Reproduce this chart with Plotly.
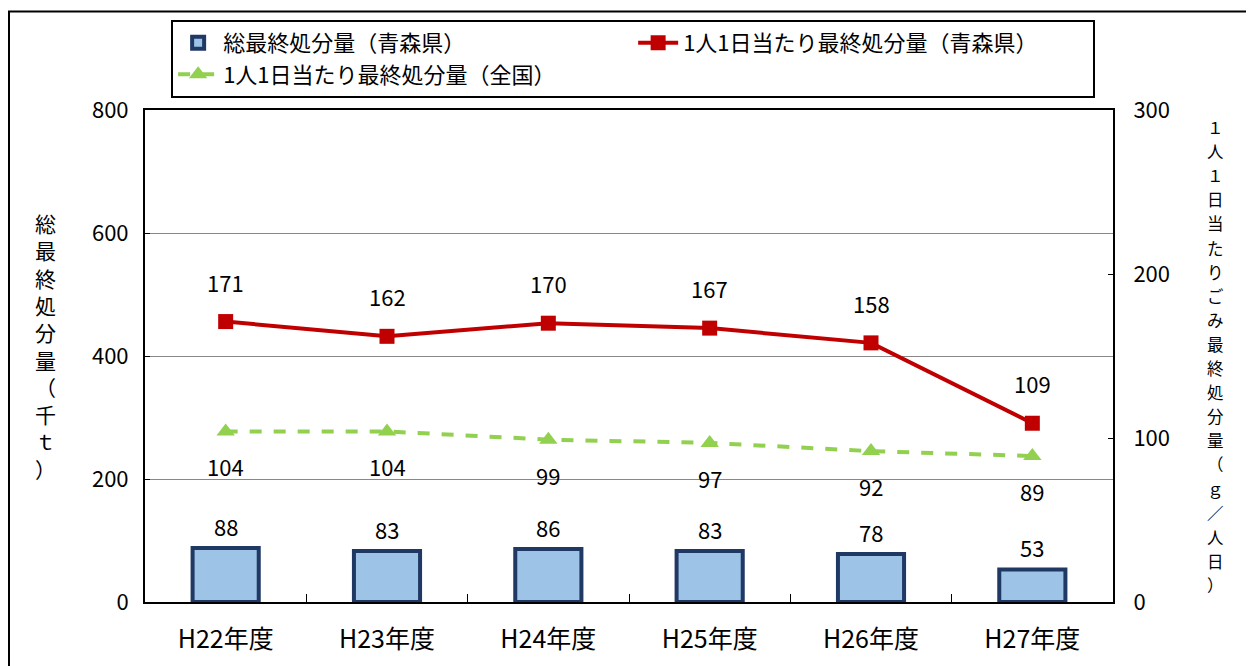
import plotly.graph_objects as go

categories = ["H22年度", "H23年度", "H24年度", "H25年度", "H26年度", "H27年度"]
total_aomori = [88, 83, 86, 83, 78, 53]
per_capita_aomori = [171, 162, 170, 167, 158, 109]
per_capita_national = [104, 104, 99, 97, 92, 89]

FONT = "Noto Sans CJK JP"

fig = go.Figure()
fig.add_trace(go.Bar(
    x=categories, y=total_aomori, name="総最終処分量（青森県）",
    marker=dict(color="#9DC3E6", line=dict(color="#1F3864", width=4)),
    width=0.41, yaxis="y",
))
fig.add_trace(go.Scatter(
    x=categories, y=per_capita_aomori, name="1人1日当たり最終処分量（青森県）",
    mode="lines+markers", line=dict(color="#C00000", width=4),
    marker=dict(symbol="square", size=15, color="#C00000"), yaxis="y2",
))
fig.add_trace(go.Scatter(
    x=categories, y=per_capita_national, name="1人1日当たり最終処分量（全国）",
    mode="lines+markers", line=dict(color="#92D050", width=4, dash="dash"),
    marker=dict(symbol="triangle-up", size=16, color="#92D050"), yaxis="y2",
))

anns = []
for c, v in zip(categories, total_aomori):
    anns.append(dict(x=c, y=v, yref="y", text=str(v), showarrow=False, yshift=22,
                     font=dict(size=22, color="#000", family=FONT)))
for c, v in zip(categories, per_capita_aomori):
    anns.append(dict(x=c, y=v, yref="y2", text=str(v), showarrow=False, yshift=40,
                     font=dict(size=22, color="#000", family=FONT)))
for c, v in zip(categories, per_capita_national):
    anns.append(dict(x=c, y=v, yref="y2", text=str(v), showarrow=False, yshift=-35,
                     font=dict(size=22, color="#000", family=FONT)))

left_title = "総最終処分量（千ｔ）"
right_title = "１人１日当たりごみ最終処分量（ｇ／人日）"
anns.append(dict(xref="paper", yref="paper", x=-0.103, y=0.52, xanchor="center", yanchor="middle",
                 text="<br>".join(list(left_title)), showarrow=False, align="center",
                 font=dict(size=21, color="#000", family=FONT)))
# vertical right-axis title, one character per line
for i, ch in enumerate(right_title):
    anns.append(dict(xref="paper", yref="paper", x=1.106, y=0.9654 - i * 0.04898,
                     xanchor="center", yanchor="middle", text=ch, showarrow=False,
                     font=dict(size=16.5, color="#000", family=FONT)))

fig.update_layout(
    width=1246, height=658,
    margin=dict(l=137, r=141, t=102, b=64, autoexpand=False),
    paper_bgcolor="white", plot_bgcolor="white",
    font=dict(family=FONT, size=20, color="#000"),
    showlegend=True,
    legend=dict(
        orientation="h", x=0.027, y=1.183, xanchor="left", yanchor="top",
        bordercolor="#000", borderwidth=2, bgcolor="white",
        font=dict(size=22, family=FONT), entrywidth=405, entrywidthmode="pixels",
        traceorder="normal", itemwidth=40, tracegroupgap=0,
    ),
    xaxis=dict(
        showline=True, linecolor="#000", linewidth=2, mirror=True,
        ticks="inside", tickson="boundaries", ticklen=8, tickcolor="#000",
        ticklabelstandoff=14,
        tickfont=dict(size=25, family=FONT), showgrid=False,
    ),
    yaxis=dict(
        range=[0, 800], dtick=200, showline=True, linecolor="#000", linewidth=2,
        ticks="inside", ticklen=5, tickcolor="#000", showgrid=True, gridcolor="#888888",
        gridwidth=1, zeroline=False, tickfont=dict(size=22, family=FONT),
        ticklabelstandoff=10,
    ),
    yaxis2=dict(
        range=[0, 300], dtick=100, overlaying="y", side="right", showline=True,
        linecolor="#000", linewidth=2, ticks="inside", ticklen=5, tickcolor="#000",
        showgrid=False, zeroline=False, tickfont=dict(size=22, family=FONT),
        ticklabelstandoff=14,
    ),
    annotations=anns,
    shapes=[dict(type="rect", xref="paper", yref="paper", x0=-0.1405, x1=1.2, y0=-0.3, y1=1.2,
                 line=dict(color="#000", width=2))],
)

fig.write_html("out.html")
